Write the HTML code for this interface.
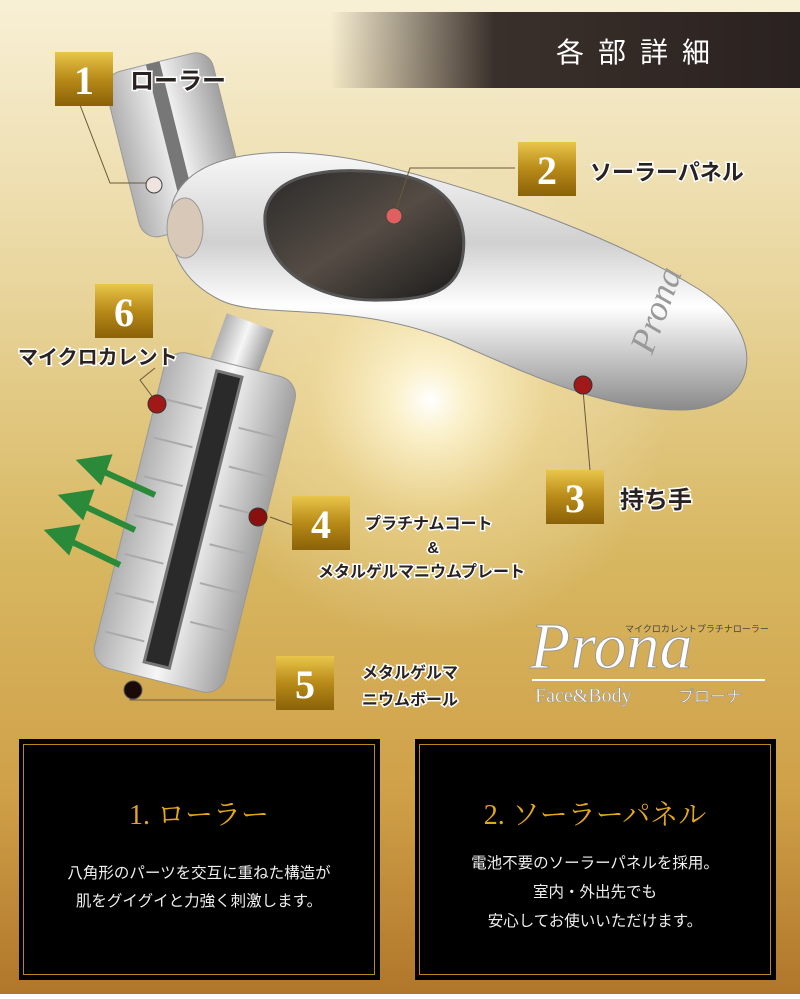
<!DOCTYPE html>
<html><head><meta charset="utf-8"><style>
html,body{margin:0;padding:0}
body{width:800px;height:994px;overflow:hidden;font-family:"Liberation Sans","Noto Sans CJK JP",sans-serif}
</style></head><body>
<svg width="800" height="994" viewBox="0 0 800 994" xmlns="http://www.w3.org/2000/svg" font-family="Liberation Sans, Noto Sans CJK JP, sans-serif">
<defs>
<linearGradient id="bg" x1="0" y1="0" x2="0" y2="1">
<stop offset="0" stop-color="#f8f0d6"/><stop offset="0.3" stop-color="#e8d49a"/><stop offset="0.55" stop-color="#d8b862"/><stop offset="0.8" stop-color="#cfa048"/><stop offset="1" stop-color="#b0762a"/></linearGradient>
<radialGradient id="glow" cx="430" cy="400" r="240" gradientUnits="userSpaceOnUse">
<stop offset="0" stop-color="#fff" stop-opacity="1"/><stop offset="0.15" stop-color="#fff8d8" stop-opacity="0.85"/><stop offset="0.5" stop-color="#fff0c0" stop-opacity="0.3"/><stop offset="1" stop-color="#fff" stop-opacity="0"/></radialGradient>
<linearGradient id="hdr" x1="0" y1="0" x2="1" y2="0">
<stop offset="0" stop-color="#3a2f2a" stop-opacity="0"/><stop offset="0.35" stop-color="#3a302b"/><stop offset="1" stop-color="#2a2220"/></linearGradient>
<linearGradient id="gold" x1="0" y1="0" x2="0" y2="1">
<stop offset="0" stop-color="#e8c64a"/><stop offset="0.5" stop-color="#b88a18"/><stop offset="1" stop-color="#8a6208"/></linearGradient>
<linearGradient id="silver" x1="0" y1="0" x2="0" y2="1">
<stop offset="0" stop-color="#f8f8f8"/><stop offset="0.35" stop-color="#d0d0d0"/><stop offset="0.6" stop-color="#ffffff"/><stop offset="1" stop-color="#8a8a8a"/></linearGradient>
<linearGradient id="silver2" x1="0" y1="0" x2="1" y2="0">
<stop offset="0" stop-color="#b0b0b0"/><stop offset="0.5" stop-color="#f6f6f6"/><stop offset="1" stop-color="#a0a0a0"/></linearGradient>
<linearGradient id="panel" x1="0" y1="0" x2="1" y2="1">
<stop offset="0" stop-color="#2a2a2a"/><stop offset="0.5" stop-color="#554c44"/><stop offset="1" stop-color="#1a1a1a"/></linearGradient>
</defs>
<rect width="800" height="994" fill="url(#bg)"/>
<rect width="800" height="994" fill="url(#glow)"/>
<rect x="330" y="12" width="470" height="76" fill="url(#hdr)"/>
<text x="640" y="62" fill="#fff" font-size="28" text-anchor="middle" letter-spacing="14">各部詳細</text>

<g transform="rotate(-14 175 140)">
<rect x="120" y="60" width="110" height="170" rx="18" fill="url(#silver2)" stroke="#999"/>
<rect x="165" y="60" width="14" height="170" fill="#777"/>
</g>
<path d="M170 220 C170 150 280 140 380 165 C500 195 620 240 700 290 C770 335 760 410 680 410 C600 410 520 370 450 340 C350 300 260 320 220 300 C180 280 170 250 170 220Z" fill="url(#silver)" stroke="#8a8a8a"/>
<path d="M265 215 C270 170 340 165 400 175 C450 185 470 220 462 260 C455 295 420 300 380 300 C320 302 262 270 265 215Z" fill="url(#panel)" stroke="#555" stroke-width="3"/>
<ellipse cx="185" cy="228" rx="18" ry="30" fill="#d8c8b8" stroke="#999"/>
<text x="620" y="350" fill="#999" font-size="36" font-family="Liberation Serif, serif" font-style="italic" transform="rotate(-70 640 330)">Prona</text>
<rect x="215" y="320" width="50" height="60" fill="url(#silver2)" transform="rotate(20 240 350)"/>
<g transform="rotate(14 195 520)">
<rect x="128" y="360" width="135" height="325" rx="20" fill="url(#silver2)" stroke="#999"/>
<rect x="180" y="370" width="26" height="300" fill="#2a2a2a" stroke="#777" stroke-width="3"/>
<g stroke="#aaa" stroke-width="2" fill="none">
<path d="M135 410h40M215 420h40M135 450h40M215 460h40M135 490h40M215 500h40M135 530h40M215 540h40M135 570h40M215 580h40M135 610h40M215 620h40M135 650h40"/>
</g>
</g>
<g stroke="#2a8a3a" stroke-width="6" fill="#2a8a3a">
<line x1="155" y1="495" x2="100" y2="470"/><polygon points="82,462 108,458 100,480"/>
<line x1="135" y1="530" x2="82" y2="505"/><polygon points="64,497 90,493 82,515"/>
<line x1="120" y1="565" x2="68" y2="540"/><polygon points="50,532 76,528 68,550"/>
</g>

<g stroke="#6a5a3a" stroke-width="1" fill="none">
<polyline points="80,105 110,183 150,183"/>
<polyline points="515,168 410,168 395,213"/>
<polyline points="590,470 583,390"/>
<polyline points="155,368 140,380 157,403"/>
<polyline points="292,525 270,517"/>
<polyline points="275,700 130,700 130,690"/>
</g>
<circle cx="154" cy="185" r="8" fill="#f0e4e0" stroke="#444"/>
<circle cx="394" cy="216" r="8" fill="#e06060" stroke="#444"/>
<circle cx="583" cy="385" r="9" fill="#a01818" stroke="#333"/>
<circle cx="157" cy="404" r="9" fill="#a01818" stroke="#333"/>
<circle cx="258" cy="517" r="9" fill="#8a1010" stroke="#333"/>
<circle cx="133" cy="690" r="9" fill="#1a0a0a" stroke="#555"/>

<g font-family="Liberation Serif, serif" font-weight="bold" font-size="40" fill="#fff" text-anchor="middle">
<rect x="55" y="52" width="58" height="54" fill="url(#gold)"/><text x="84" y="94">1</text>
<rect x="518" y="142" width="58" height="54" fill="url(#gold)"/><text x="547" y="184">2</text>
<rect x="546" y="470" width="58" height="54" fill="url(#gold)"/><text x="575" y="512">3</text>
<rect x="292" y="496" width="58" height="54" fill="url(#gold)"/><text x="321" y="538">4</text>
<rect x="276" y="656" width="58" height="54" fill="url(#gold)"/><text x="305" y="698">5</text>
<rect x="95" y="284" width="58" height="54" fill="url(#gold)"/><text x="124" y="326">6</text>
</g>
<g fill="#2a2220" stroke="#fff" stroke-width="3" paint-order="stroke" font-weight="bold">
<text x="130" y="89" font-size="24">ローラー</text>
<text x="590" y="180" font-size="22">ソーラーパネル</text>
<text x="620" y="508" font-size="24">持ち手</text>
<text x="18" y="364" font-size="20">マイクロカレント</text>
<text x="365" y="529" font-size="16">プラチナムコート</text>
<text x="433" y="553" font-size="16" text-anchor="middle">&amp;</text>
<text x="318" y="577" font-size="16">メタルゲルマニウムプレート</text>
<text x="362" y="678" font-size="16">メタルゲルマ</text>
<text x="362" y="705" font-size="16">ニウムボール</text>
</g>
<text x="530" y="668" font-family="Liberation Serif, serif" font-style="italic" font-size="66" fill="#fff" stroke="#999" stroke-width="1">Prona</text>
<text x="625" y="632" font-size="9" fill="#444">マイクロカレントプラチナローラー</text>
<line x1="532" y1="680" x2="765" y2="680" stroke="#fff" stroke-width="2"/>
<text x="535" y="702" font-family="Liberation Serif, serif" font-size="20" fill="#fff" stroke="#999" stroke-width="0.5">Face&amp;Body</text>
<text x="678" y="702" font-size="16" fill="#fff" stroke="#888" stroke-width="0.5">プローナ</text>

<rect x="19" y="739" width="361" height="241" fill="#000"/>
<rect x="23.5" y="744.5" width="351" height="230" fill="none" stroke="#b8871e" stroke-width="1"/>
<text x="199" y="824" font-family="Liberation Serif, Noto Serif CJK SC, serif" font-size="28" fill="#e3a71e" text-anchor="middle">1. ローラー</text>
<text x="199" y="878" font-size="15.5" fill="#eee" text-anchor="middle">八角形のパーツを交互に重ねた構造が</text>
<text x="199" y="906" font-size="15.5" fill="#eee" text-anchor="middle">肌をグイグイと力強く刺激します。</text>

<rect x="415" y="739" width="361" height="241" fill="#000"/>
<rect x="419.5" y="744.5" width="351" height="230" fill="none" stroke="#b8871e" stroke-width="1"/>
<text x="595" y="824" font-family="Liberation Serif, Noto Serif CJK SC, serif" font-size="28" fill="#e3a71e" text-anchor="middle">2. ソーラーパネル</text>
<text x="595" y="868" font-size="15.5" fill="#eee" text-anchor="middle">電池不要のソーラーパネルを採用。</text>
<text x="595" y="897" font-size="15.5" fill="#eee" text-anchor="middle">室内・外出先でも</text>
<text x="595" y="926" font-size="15.5" fill="#eee" text-anchor="middle">安心してお使いいただけます。</text>
</svg>
</body></html>
